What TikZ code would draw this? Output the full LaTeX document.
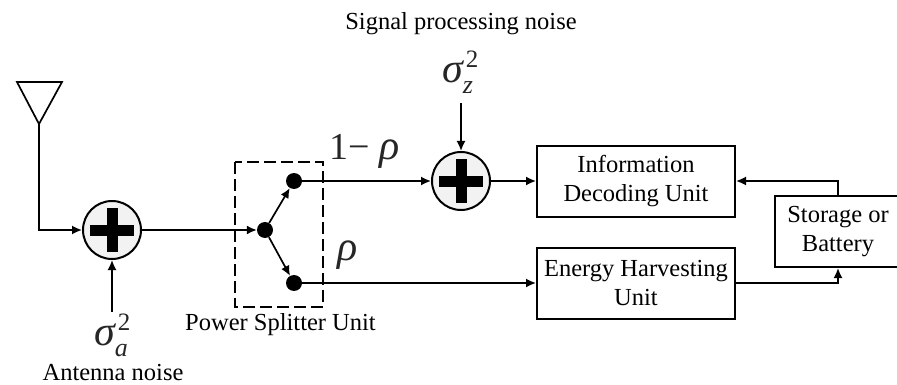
\documentclass[tikz,border=0pt]{standalone}
\usepackage{fontspec}
\setmainfont{Liberation Serif}
\usetikzlibrary{arrows.meta}
\newcommand{\sigsym}[1]{{\fontsize{42}{42}\selectfont\itshape σ}\rlap{\kern3pt\raisebox{15pt}{\fontsize{25}{25}\selectfont 2}}\raisebox{-11pt}{\fontsize{26}{26}\selectfont\itshape #1}}
\tikzset{
 conn/.style={line width=1.7pt,-{Latex[length=10pt,width=9pt]}},
 sumnode/.style={circle,draw,line width=2pt,minimum size=58pt,inner sep=0pt,fill=black!5},
 dotnode/.style={circle,fill=black,minimum size=16pt,inner sep=0pt},
 unitbox/.style={draw,line width=2pt,align=center,inner sep=0pt,font=\fontsize{24.5}{29}\selectfont},
 lab/.style={font=\fontsize{24.5}{27}\selectfont,inner sep=0pt},
 sym/.style={inner sep=0pt,text=black!85,anchor=base west},
 big/.style={sym,font=\fontsize{38}{38}\selectfont}
}
\begin{document}
\begin{tikzpicture}[x=1pt,y=-1pt]
\useasboundingbox (0,0) rectangle (897,385);
\draw[line width=1.7pt] (17,82) -- (62,82) -- (39,124) -- cycle;
\coordinate (ant) at (39,124);
\node[sumnode] (s1) at (112,230) {};
\fill (s1.center)+(-22,-5.5) rectangle +(22,5.5); \fill (s1.center)+(-5.5,-22) rectangle +(5.5,22);
\node[sumnode] (s2) at (461,181) {};
\fill (s2.center)+(-22,-5.5) rectangle +(22,5.5); \fill (s2.center)+(-5.5,-22) rectangle +(5.5,22);
\draw[conn] (ant) |- (s1);
\coordinate (an) at (112,312);
\draw[conn] (an) -- (s1);
\node[dotnode] (d0) at (265,230) {};
\node[dotnode] (d1) at (294,181) {};
\node[dotnode] (d2) at (294,283) {};
\draw[conn] (s1) -- (d0);
\draw[conn] (d0) -- (d1);
\draw[conn] (d0) -- (d2);
\draw[line width=1.7pt,dash pattern=on 12pt off 5pt] (235,162) rectangle (323,307);
\node[unitbox,minimum width=198pt,minimum height=71pt] (id) at (636,181.5) {Information\\Decoding Unit};
\node[unitbox,minimum width=198pt,minimum height=71pt] (eh) at (636,283.5) {Energy Harvesting\\Unit};
\node[unitbox,minimum width=126pt,minimum height=71pt] (st) at (838,231.5) {Storage or\\Battery};
\draw[conn] (d1) -- (s2);
\draw[conn] (s2) -- (id.west |- s2);
\draw[conn] (d2) -- (eh.west |- d2);
\draw[conn] (st.north) |- (id.east |- s2);
\draw[conn] (eh.east |- d2) -| (st.south);
\coordinate (zn) at (461,103);
\draw[conn] (zn) -- (s2);
\node[lab] (t1) at (461,24) {Signal processing noise};
\node[lab] (t2) at (113,373) {Antenna noise};
\node[lab] (t3) at (280.5,325) {Power Splitter Unit};
\node[sym] (sa) at (94,345) {\sigsym{a}};
\node[sym] (sz) at (442,83) {\sigsym{z}};
\node[big] (r1) at (329,160) {1− {\fontsize{42}{42}\selectfont\itshape ρ}};
\node[big] (r2) at (337,260) {\fontsize{42}{42}\selectfont\itshape ρ};
\end{tikzpicture}
\end{document}
